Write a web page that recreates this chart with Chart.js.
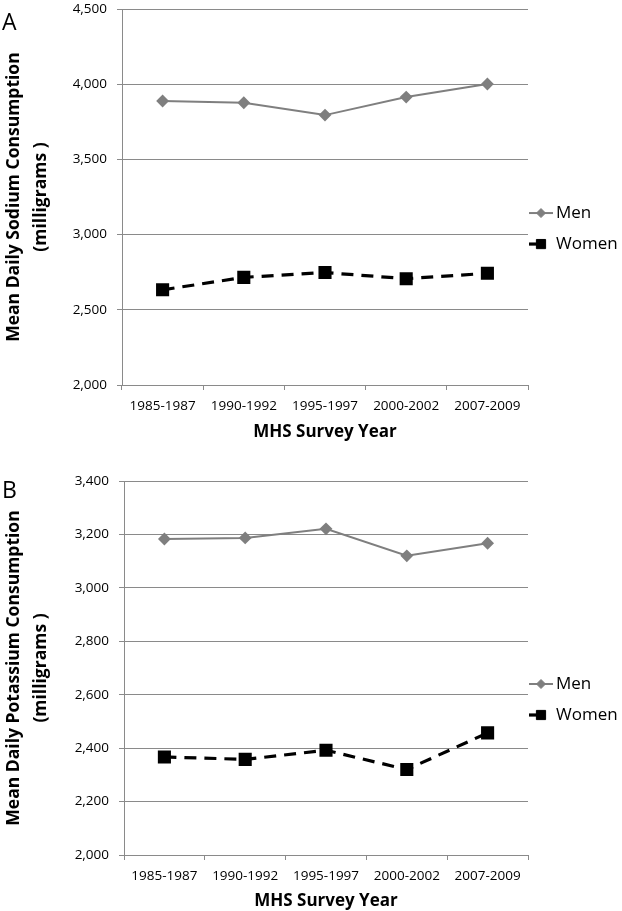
<!DOCTYPE html>
<html>
<head>
<meta charset="utf-8">
<script src="https://cdn.jsdelivr.net/npm/chart.js@4.4.1/dist/chart.umd.min.js"></script>
<style>
  body { margin: 0; background: #fff; font-family: 'Open Sans', sans-serif; }
  #wrap { position: relative; width: 622px; height: 911px; overflow: hidden; }
  .panel { position: absolute; left: 0; width: 622px; }
  .tag { position: absolute; left: 2px; font-size: 23px; color: #000; line-height: 1; }
</style>
</head>
<body>
<div id="wrap">
  <div class="panel" style="top:-9px;height:464px"><canvas id="sodium" width="622" height="464"></canvas></div>
  <div class="panel" style="top:454px;height:457px"><canvas id="potassium" width="622" height="457"></canvas></div>
  <div class="tag" style="top:10px">A</div>
  <div class="tag" style="top:478px">B</div>
</div>
<script>
const surveyYears = ['1985-1987', '1990-1992', '1995-1997', '2000-2002', '2007-2009'];
const seriesNames = ['Men', 'Women'];

// panel A - sodium (mg)
const sodiumMen = [3889, 3877, 3795, 3915, 4002];
const sodiumWomen = [2633, 2716, 2748, 2707, 2743];

// panel B - potassium (mg)
const potassiumMen = [3183, 3187, 3221, 3120, 3167];
const potassiumWomen = [2367, 2358, 2392, 2320, 2457];

const gridGray = '#8a8a8a';
const menGray = '#7f7f7f';

Chart.defaults.font.family = "'Open Sans', sans-serif";
Chart.defaults.color = '#000';

// legend on the right: line + marker + label
const sideLegend = {
  id: 'sideLegend',
  afterDraw(chart) {
    const ctx = chart.ctx;
    const area = chart.chartArea;
    const mid = (area.top + area.bottom) / 2;
    const offsets = [16, 47];
    chart.data.datasets.forEach((ds, i) => {
      const y = mid + offsets[i];
      const x0 = area.right + 1;
      ctx.save();
      ctx.strokeStyle = ds.borderColor;
      ctx.lineWidth = ds.borderWidth;
      ctx.beginPath();
      ctx.moveTo(x0, y);
      ctx.lineTo(x0 + (ds.borderDash ? 8 : 24), y);
      ctx.stroke();
      ctx.fillStyle = ds.pointBackgroundColor;
      ctx.strokeStyle = ds.pointBackgroundColor;
      ctx.lineWidth = 1;
      Chart.helpers.drawPoint(ctx, {
        pointStyle: ds.pointStyle,
        radius: ds.pointStyle === 'rect' ? 6.5 : 4.5,
        rotation: 0,
        borderWidth: 1
      }, x0 + 12, y);
      ctx.fillStyle = '#000';
      ctx.font = "17px 'Open Sans', sans-serif";
      ctx.textBaseline = 'middle';
      ctx.textAlign = 'left';
      ctx.fillText(ds.label, x0 + 27, y);
      ctx.restore();
    });
  }
};

function makePanel(id, men, women, yMax, yStep, yTitle, yWidth, topPad, bottomPad, xHeight) {
  return new Chart(document.getElementById(id).getContext('2d'), {
    type: 'line',
    data: {
      labels: surveyYears,
      datasets: [{
        label: seriesNames[0],
        data: men,
        borderColor: menGray,
        borderWidth: 2,
        pointStyle: 'rectRot',
        pointRadius: 5,
        pointBackgroundColor: menGray,
        pointBorderColor: menGray,
        tension: 0
      }, {
        label: seriesNames[1],
        data: women,
        borderColor: '#000',
        borderWidth: 3.2,
        borderDash: [12, 8],
        pointStyle: 'rect',
        pointRadius: 7,
        pointBackgroundColor: '#000',
        pointBorderColor: '#000',
        tension: 0
      }]
    },
    options: {
      responsive: false,
      maintainAspectRatio: false,
      animation: false,
      layout: { padding: { left: 0, top: topPad, right: 94, bottom: bottomPad } },
      plugins: { legend: { display: false }, tooltip: { enabled: false } },
      scales: {
        x: {
          offset: true,
          grid: { offset: true, drawOnChartArea: false, color: gridGray, tickLength: 5 },
          border: { color: gridGray },
          ticks: { font: { size: 13.5 }, padding: 8, maxRotation: 0 },
          title: {
            display: true,
            text: 'MHS Survey Year',
            font: { size: 17, weight: 'bold' },
            padding: { top: 0, bottom: 0 }
          },
          afterFit(scale) { scale.height = xHeight; }
        },
        y: {
          min: 2000,
          max: yMax,
          grid: { color: gridGray, tickLength: 5 },
          border: { color: gridGray },
          ticks: {
            stepSize: yStep,
            font: { size: 13.5 },
            padding: 10,
            callback: v => v.toLocaleString('en-US')
          },
          title: {
            display: true,
            text: yTitle,
            font: { size: 17.5, weight: 'bold', lineHeight: 1.55 },
            padding: { top: 0, bottom: 0 }
          },
          afterFit(scale) { scale.width = yWidth; }
        }
      }
    },
    plugins: [sideLegend]
  });
}

makePanel('sodium', sodiumMen, sodiumWomen, 4500, 500,
  ['Mean Daily Sodium Consumption', '(milligrams )'], 122, 18, 13, 57);
makePanel('potassium', potassiumMen, potassiumWomen, 3400, 200,
  ['Mean Daily Potassium Consumption', '(milligrams )'], 124, 27, 0, 56);
</script>
</body>
</html>
